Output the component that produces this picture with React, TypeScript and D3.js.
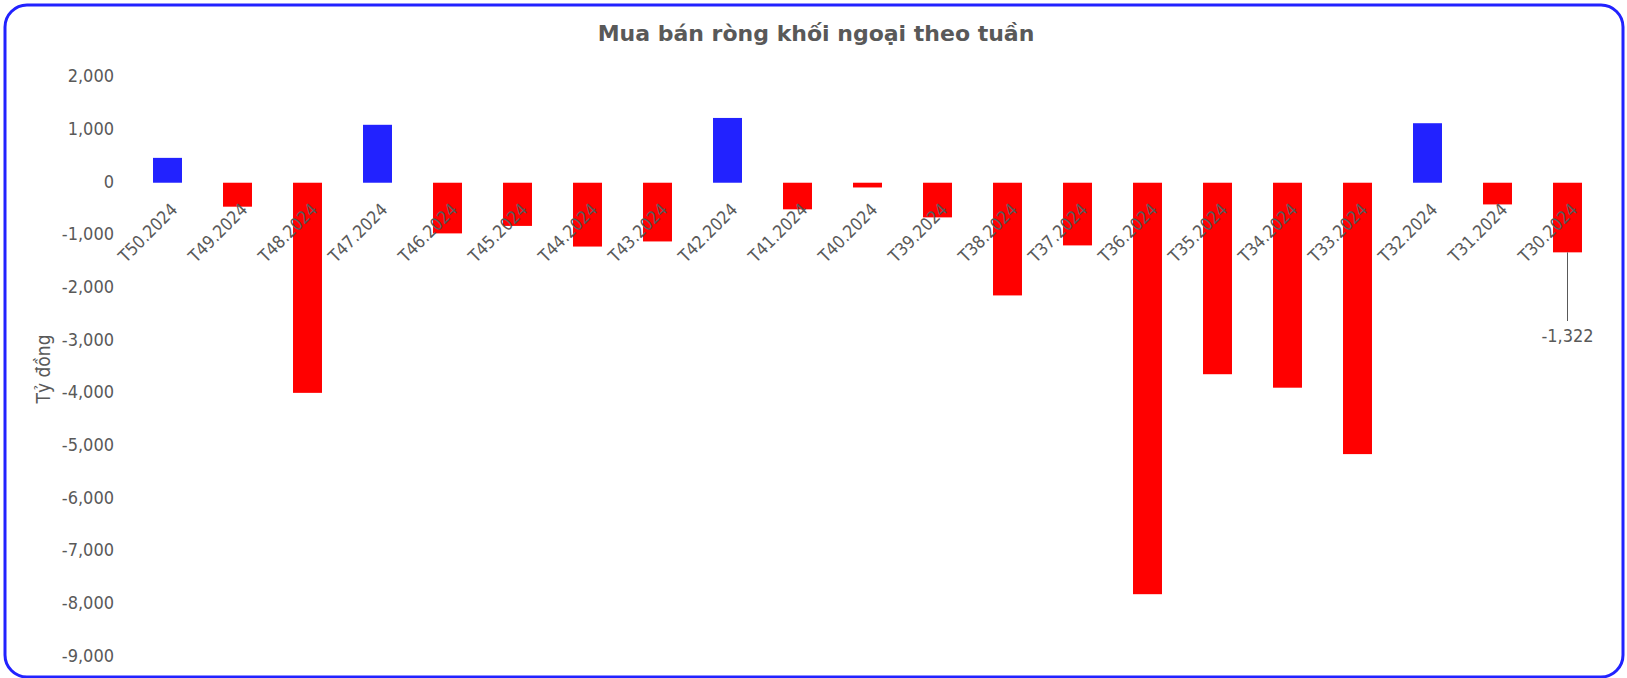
import React, { useEffect, useRef } from 'react';
import * as d3 from 'd3';

const weeks = [
  'T50.2024', 'T49.2024', 'T48.2024', 'T47.2024', 'T46.2024', 'T45.2024', 'T44.2024',
  'T43.2024', 'T42.2024', 'T41.2024', 'T40.2024', 'T39.2024', 'T38.2024', 'T37.2024',
  'T36.2024', 'T35.2024', 'T34.2024', 'T33.2024', 'T32.2024', 'T31.2024', 'T30.2024',
];
const netValues = [
  472, -455, -3990, 1100, -962, -820, -1212,
  -1115, 1230, -505, -90, -658, -2140, -1190,
  -7813, -3636, -3892, -5153, 1130, -412, -1322,
];
const yTicks = [2000, 1000, 0, -1000, -2000, -3000, -4000, -5000, -6000, -7000, -8000, -9000];
const labelledWeek = 'T30.2024';

const FONT = '"DejaVu Sans Condensed", "DejaVu Sans", sans-serif';
const GREY = '#595959';
const fmt = (v: number) => d3.format(',')(v).replace('\u2212', '-');

const App = () => {
  const svgRef = useRef(null);

  useEffect(() => {
    document.body.style.margin = '0';
    const width = 1627;
    const height = 678;
    const svg = d3.select(svgRef.current).attr('width', width).attr('height', height);
    svg.selectAll('*').remove();

    svg.append('rect')
      .attr('x', 5).attr('y', 5)
      .attr('width', 1618).attr('height', 672)
      .attr('rx', 22).attr('ry', 22)
      .attr('fill', '#fff')
      .attr('stroke', '#2222ff')
      .attr('stroke-width', 3);

    svg.append('text')
      .attr('x', 816).attr('y', 35)
      .attr('text-anchor', 'middle')
      .attr('dominant-baseline', 'middle')
      .attr('font-family', '"DejaVu Sans", sans-serif')
      .attr('font-weight', 'bold')
      .attr('font-size', 22)
      .attr('fill', GREY)
      .text('Mua bán ròng khối ngoại theo tuần');

    const x = d3.scaleBand()
      .domain(weeks)
      .range([132.5, 1602.5])
      .paddingInner(0.586)
      .paddingOuter(0.293);

    const y = d3.scaleLinear()
      .domain([-9000, 2000])
      .range([656.7, 77.4]);

    // y tick labels
    svg.append('g')
      .selectAll('text')
      .data(yTicks)
      .join('text')
      .attr('x', 114)
      .attr('y', d => y(d))
      .attr('text-anchor', 'end')
      .attr('dominant-baseline', 'middle')
      .attr('font-family', FONT)
      .attr('font-size', 18)
      .attr('fill', GREY)
      .text(d => fmt(d));

    svg.append('text')
      .attr('transform', `translate(44, 369) rotate(-90)`)
      .attr('text-anchor', 'middle')
      .attr('dominant-baseline', 'middle')
      .attr('font-family', FONT)
      .attr('font-size', 19)
      .attr('fill', GREY)
      .text('Tỷ đồng');

    // bars
    svg.append('g')
      .selectAll('rect')
      .data(netValues)
      .join('rect')
      .attr('x', (d, i) => x(weeks[i]))
      .attr('y', d => y(Math.max(0, d)))
      .attr('width', x.bandwidth())
      .attr('height', d => Math.abs(y(d) - y(0)))
      .attr('fill', d => (d >= 0 ? '#2222ff' : '#ff0000'));

    // category labels, rotated
    svg.append('g')
      .selectAll('text')
      .data(weeks)
      .join('text')
      .attr('transform', d => `translate(${x(d) + x.bandwidth() / 2 + 11}, ${y(0) + 28}) rotate(-45)`)
      .attr('text-anchor', 'end')
      .attr('font-family', FONT)
      .attr('font-size', 17.5)
      .attr('fill', GREY)
      .text(d => d);

    // data label with leader line
    const li = weeks.indexOf(labelledWeek);
    const lx = x(labelledWeek) + x.bandwidth() / 2;
    svg.append('line')
      .attr('x1', lx).attr('x2', lx)
      .attr('y1', y(netValues[li]))
      .attr('y2', 321)
      .attr('stroke', GREY)
      .attr('stroke-width', 1);
    svg.append('text')
      .attr('x', lx)
      .attr('y', 337)
      .attr('text-anchor', 'middle')
      .attr('dominant-baseline', 'middle')
      .attr('font-family', FONT)
      .attr('font-size', 18)
      .attr('fill', GREY)
      .text(fmt(netValues[li]));
  }, []);

  return <svg ref={svgRef} style={{ display: 'block' }}></svg>;
};

export default App;
